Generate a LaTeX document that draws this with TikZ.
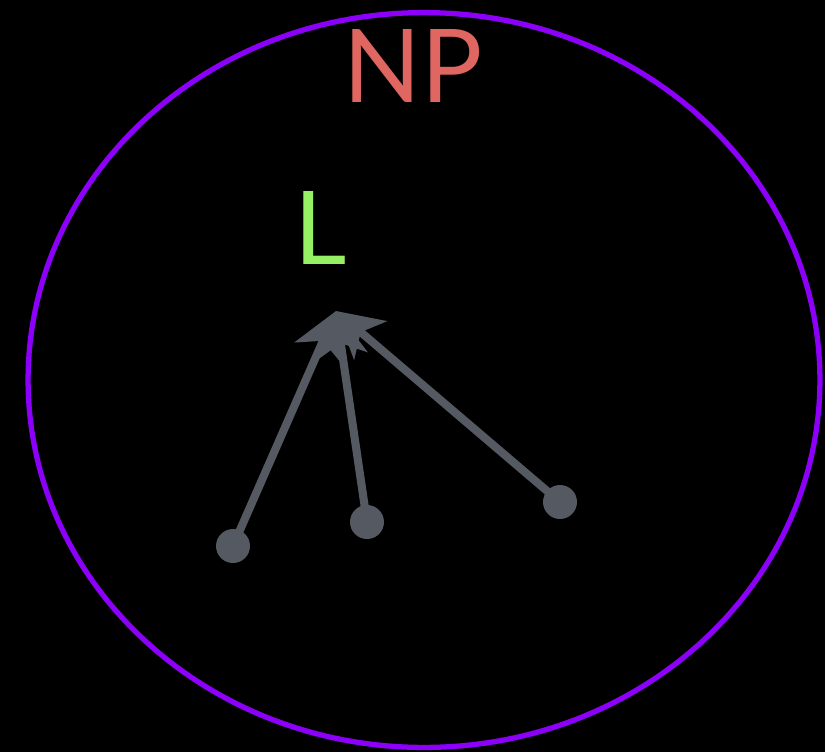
\documentclass[tikz,border=0pt]{standalone}
\usepackage{fontspec}
\setmainfont{Lato}
\usetikzlibrary{positioning,arrows.meta,shapes.geometric}
\definecolor{SetPurple}{RGB}{140,0,250}
\definecolor{ClassRed}{RGB}{224,102,98}
\definecolor{LangGreen}{RGB}{150,240,100}
\definecolor{EdgeGray}{RGB}{85,90,98}
\tikzset{
  reduce/.style={-{Stealth[length=9mm,width=10mm,inset=2.5mm]},line width=4.6pt,draw=EdgeGray},
  instance/.style={circle,fill=EdgeGray,inner sep=0pt,minimum size=0.68cm},
  setlabel/.style={font=\fontsize{58}{60}\selectfont,inner sep=0pt}
}

\begin{document}
\begin{tikzpicture}[x=0.02cm,y=-0.02cm]
  \fill[black] (0,0) rectangle (825,752);
  \useasboundingbox (0,0) rectangle (825,752);
  \node[ellipse,draw=SetPurple,line width=3pt,minimum width=15.84cm,minimum height=14.7cm,inner sep=0pt] (np) at (424,380) {};
  \node[setlabel,text=ClassRed] (nplabel) at (413,66) {NP};
  \node[setlabel,text=LangGreen] (lang) at (321,228) {L};
  \coordinate (target) at (336,311);
  \node[instance] (x1) at (233,546) {};
  \node[instance] (x2) at (367,522) {};
  \node[instance] (x3) at (560,502) {};
  \draw[reduce] (x1.center) -- (target);
  \draw[reduce] (x2.center) -- (target);
  \draw[reduce] (x3.center) -- (target);
\end{tikzpicture}
\end{document}
